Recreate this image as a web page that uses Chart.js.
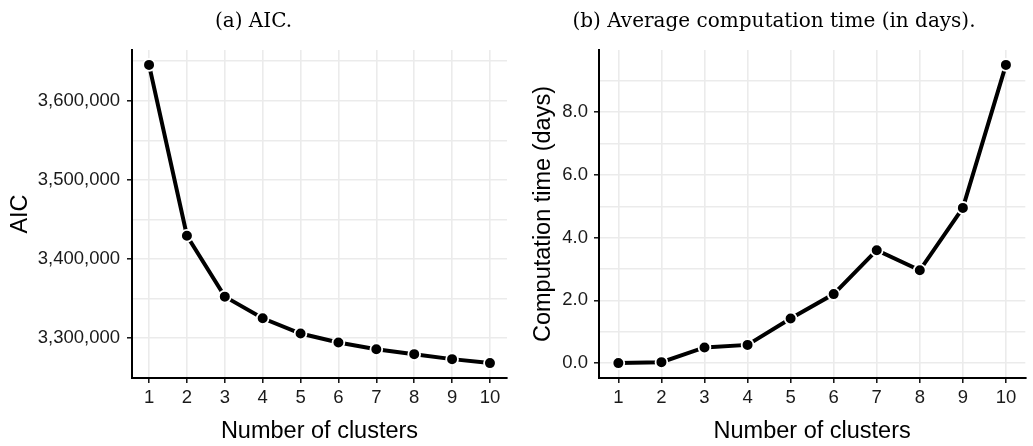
<!DOCTYPE html>
<html>
<head>
<meta charset="utf-8">
<script src="https://cdn.jsdelivr.net/npm/chart.js@4/dist/chart.umd.min.js"></script>
<style>
  html, body { margin: 0; padding: 0; background: #fff; }
  #wrap { position: relative; width: 1033px; height: 446px; overflow: hidden; }
  .box { position: absolute; top: 0; height: 446px; }
  #boxA { left: 0; width: 516px; }
  #boxB { left: 516px; width: 517px; }
</style>
</head>
<body>
<div id="wrap">
  <div class="box" id="boxA"><canvas id="chartA" width="516" height="446"></canvas></div>
  <div class="box" id="boxB"><canvas id="chartB" width="517" height="446"></canvas></div>
</div>
<script>
// ---- data ----
const clusters = [1, 2, 3, 4, 5, 6, 7, 8, 9, 10];
const aicValues = [3645400, 3429400, 3352500, 3325200, 3305900, 3294600, 3286100, 3279800, 3273500, 3268500];
const timeValues = [0.0, 0.03, 0.50, 0.58, 1.42, 2.20, 3.60, 2.96, 4.95, 9.51];
const aicMajorTicks = [3300000, 3400000, 3500000, 3600000];
const aicMinorTicks = [3350000, 3450000, 3550000, 3650000];
const timeMajorTicks = [0, 2, 4, 6, 8];
const timeMinorTicks = [1, 3, 5, 7, 9];
const titleA = '(a) AIC.';
const titleB = '(b) Average computation time (in days).';
const xTitle = 'Number of clusters';
const yTitleA = 'AIC';
const yTitleB = 'Computation time (days)';

// ---- helpers ----
function expandRange(vals, frac) {
  const lo = Math.min(...vals), hi = Math.max(...vals);
  const pad = (hi - lo) * frac;
  return [lo - pad, hi + pad];
}

const GRID = '#ebebeb';
const SANS = '"Liberation Sans", Arial, sans-serif';
const TITLE_SIZE = 20;

function makeChart(id, o) {
  const [xMin, xMax] = expandRange(clusters, 0.05);
  const [yMin, yMax] = expandRange(o.values, 0.05);
  const majorSet = new Set(o.major);
  const allY = o.major.concat(o.minor).filter(v => v >= yMin && v <= yMax).sort((a, b) => a - b);
  return new Chart(document.getElementById(id), {
    type: 'line',
    data: {
      datasets: [{
        data: clusters.map((c, i) => ({ x: c, y: o.values[i] })),
        borderColor: '#000',
        borderWidth: 4,
        tension: 0,
        pointRadius: 5.9,
        pointHoverRadius: 5.9,
        pointBackgroundColor: '#000',
        pointBorderColor: '#fff',
        pointBorderWidth: 1.8,
        fill: false
      }]
    },
    options: {
      responsive: false,
      animation: false,
      devicePixelRatio: 1,
      layout: { padding: { left: 0, right: o.padRight, top: 0, bottom: 0 } },
      plugins: {
        legend: { display: false },
        tooltip: { enabled: false },
        title: {
          display: true,
          text: o.title,
          color: '#000',
          font: { family: '"DejaVu Serif", serif', size: TITLE_SIZE, weight: 'normal' },
          padding: { top: 10, bottom: 50 - 10 - TITLE_SIZE * 1.2 }
        }
      },
      scales: {
        x: {
          type: 'linear',
          min: xMin,
          max: xMax,
          afterBuildTicks: s => { s.ticks = clusters.map(v => ({ value: v })); },
          afterFit: s => { s.height = 68; },
          border: { display: true, color: '#000', width: 2 },
          grid: { color: GRID, lineWidth: 1.6, tickColor: '#000', tickLength: 5, tickWidth: 1.4 },
          ticks: {
            color: '#1a1a1a',
            font: { family: SANS, size: 18.5 },
            padding: 4,
            maxRotation: 0,
            callback: v => String(v)
          },
          title: {
            display: true,
            text: xTitle,
            color: '#000',
            font: { family: SANS, size: 23.5 },
            padding: { top: 0, bottom: 0 }
          }
        },
        y: {
          type: 'linear',
          min: yMin,
          max: yMax,
          afterBuildTicks: s => { s.ticks = allY.map(v => ({ value: v })); },
          afterFit: s => { s.width = o.yWidth; },
          border: { display: true, color: '#000', width: 2 },
          grid: {
            color: GRID,
            lineWidth: 1.6,
            tickLength: 5,
            tickWidth: 1.4,
            tickColor: ctx => (ctx.tick && majorSet.has(ctx.tick.value)) ? '#000' : 'rgba(0,0,0,0)'
          },
          ticks: {
            color: '#1a1a1a',
            font: { family: SANS, size: 18.5 },
            padding: o.tickPad,
            callback: v => majorSet.has(v) ? o.fmt(v) : ''
          },
          title: {
            display: true,
            text: o.yTitle,
            color: '#000',
            font: { family: SANS, size: 23.5 },
            padding: { top: o.yTitlePad, bottom: 0 }
          }
        }
      }
    }
  });
}

makeChart('chartA', {
  values: aicValues, major: aicMajorTicks, minor: aicMinorTicks,
  title: titleA, yTitle: yTitleA, yWidth: 132, padRight: 9, tickPad: 7, yTitlePad: 6.5,
  fmt: v => v.toLocaleString('en-US')
});
makeChart('chartB', {
  values: timeValues, major: timeMajorTicks, minor: timeMinorTicks,
  title: titleB, yTitle: yTitleB, yWidth: 83, padRight: 1, tickPad: 6, yTitlePad: 13,
  fmt: v => v.toFixed(1)
});
</script>
</body>
</html>
